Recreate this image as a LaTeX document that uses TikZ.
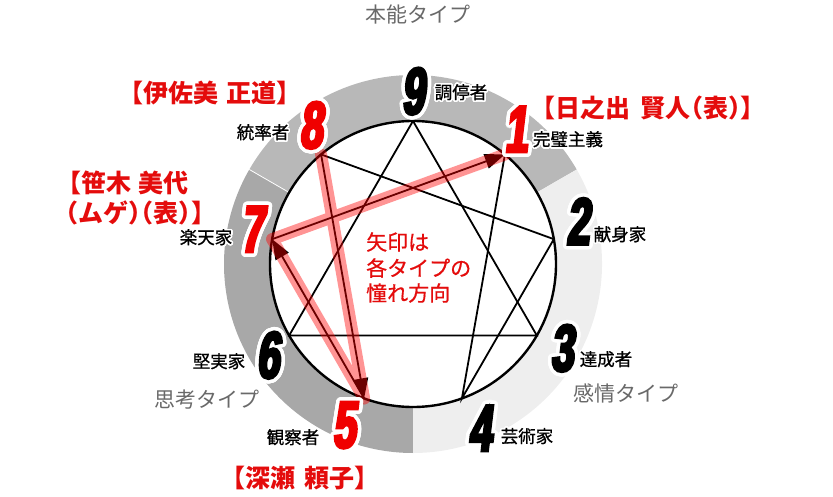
\documentclass[tikz,border=0pt]{standalone}
\usepackage{fontspec}
\setmainfont{Noto Sans CJK JP}
\newfontfamily\numfont{Liberation Sans Bold}[FakeStretch=0.62,FakeSlant=0.12,FakeBold=4.5]
\newfontfamily\lblfont{Noto Sans CJK JP}[FakeBold=0.8]
\newfontfamily\ctrfont{Noto Sans CJK JP}[FakeBold=0.6]
\usepackage[copies]{contour}
\contournumber{32}
\usetikzlibrary{arrows.meta}
\definecolor{ringtop}{RGB}{184,184,184}
\definecolor{ringleft}{RGB}{168,168,168}
\definecolor{ringright}{RGB}{238,238,238}
\definecolor{namered}{RGB}{228,12,12}
\definecolor{numred}{RGB}{240,0,0}
\definecolor{typegray}{RGB}{105,105,105}
\newcommand{\numhalo}[1]{\contourlength{3.5pt}\contour{white}{#1}}
\newcommand{\lblhalo}[1]{\contourlength{1.6pt}\contour{white}{#1}}
\newcommand{\hw}[1]{{\addfontfeatures{RawFeature=+halt}#1}}
\tikzset{
  enn/.style={line width=1.8pt, black},
  arr/.style={enn, -{Triangle[length=20pt,width=15pt]}},
  band/.style={line width=12pt, line cap=round, red},
  numbk/.style={inner sep=0pt, text=black, font=\numfont\fontsize{66}{66}\selectfont},
  numrd/.style={numbk, text=numred},
  lbl/.style={inner sep=0pt, font=\lblfont\fontsize{17.5}{20}\selectfont},
  typelbl/.style={inner sep=0pt, text=typegray, font=\fontsize{21}{24}\selectfont},
  namelbl/.style={inner sep=0pt, text=namered, font=\bfseries\fontsize{25}{30}\selectfont},
  centerlbl/.style={inner sep=0pt, text=namered, font=\ctrfont\fontsize{21}{25.5}\selectfont, anchor=west}
}
\begin{document}
\begin{tikzpicture}[x=1pt,y=-1pt]
\useasboundingbox (0,0) rectangle (833,497);
\begin{scope}[shift={(413,264)}, yscale=-1]
  % ring sectors
  \fill[ringtop] (30:143) arc[start angle=30,end angle=150,radius=143] -- (150:189) arc[start angle=150,end angle=30,radius=189] -- cycle;
  \fill[ringleft] (150:143) arc[start angle=150,end angle=270,radius=143] -- (270:189) arc[start angle=270,end angle=150,radius=189] -- cycle;
  \fill[ringright] (-90:143) arc[start angle=-90,end angle=30,radius=143] -- (30:189) arc[start angle=30,end angle=-90,radius=189] -- cycle;
  \draw[white, line width=0.8pt] (150:143) -- (150:189);
  \draw[line width=2.4pt, fill=white] (0,0) circle[radius=143];
  \foreach \n/\a in {9/90,1/50,2/10,3/-30,4/-70,5/-110,6/-150,7/170,8/130}
    \coordinate (p\n) at (\a:143);
\end{scope}
% enneagram lines
\draw[enn] (p9) -- (p3) -- (p6) -- cycle;
\draw[enn] (p1) -- (p4) -- (p2) -- (p8);
\draw[arr] (p8) -- (p5);
\draw[arr] (p5) -- (p7);
\draw[arr] (p7) -- (p1);
% translucent bands
\begin{scope}[transparency group, opacity=0.42]
  \draw[band] (p8) -- (p5);
  \draw[band] (p5) -- (p7);
  \draw[band] (p7) -- (p1);
\end{scope}
% numbers
\node[numbk] (n9) at (413,93) {\numhalo{9}};
\node[numrd] (n8) at (311,127) {\numhalo{8}};
\node[numrd] (n1) at (516,131) {\numhalo{1}};
\node[numbk] (n2) at (578,223) {\numhalo{2}};
\node[numbk] (n3) at (562,350) {\numhalo{3}};
\node[numbk] (n4) at (480,430) {\numhalo{4}};
\node[numrd] (n5) at (344,427) {\numhalo{5}};
\node[numbk] (n6) at (268,357) {\numhalo{6}};
\node[numrd] (n7) at (252,231) {\numhalo{7}};
% small labels
\node[lbl] (l9) at (461,93) {\lblhalo{調停者}};
\node[lbl] (l8) at (263,133) {\lblhalo{統率者}};
\node[lbl] (l1) at (568,140) {\lblhalo{完璧主義}};
\node[lbl] (l2) at (620,235) {\lblhalo{献身家}};
\node[lbl] (l7) at (206,238) {\lblhalo{楽天家}};
\node[lbl] (l6) at (219,362) {\lblhalo{堅実家}};
\node[lbl] (l5) at (293,438) {\lblhalo{観察者}};
\node[lbl] (l4) at (527,437) {\lblhalo{芸術家}};
\node[lbl] (l3) at (606,360) {\lblhalo{達成者}};
% type labels
\node[typelbl] (tInst) at (418,15) {本能タイプ};
\node[typelbl] (tThink) at (207,400) {思考タイプ};
\node[typelbl] (tFeel) at (626,393) {感情タイプ};
% names
\node[namelbl] (m8) at (210,93) {【伊佐美\hspace{0.3em}正道】};
\node[namelbl] (m1) at (648,108) {【日之出\hspace{0.4em}賢人\hw{（}表\hw{）}】};
\node[namelbl, anchor=west] (m7a) at (56,183) {【笹木\hspace{0.3em}美代};
\node[namelbl, anchor=west] (m7b) at (66,213) {\hw{（}ムゲ\hw{）（}表\hw{）}】};
\node[namelbl] (m5) at (300,478) {【深瀬\hspace{0.4em}頼子】};
% center text
\node[centerlbl] (c1) at (366,242) {矢印は};
\node[centerlbl] (c2) at (366,268) {各タイプの};
\node[centerlbl] (c3) at (366,293) {憧れ方向};
\end{tikzpicture}
\end{document}
